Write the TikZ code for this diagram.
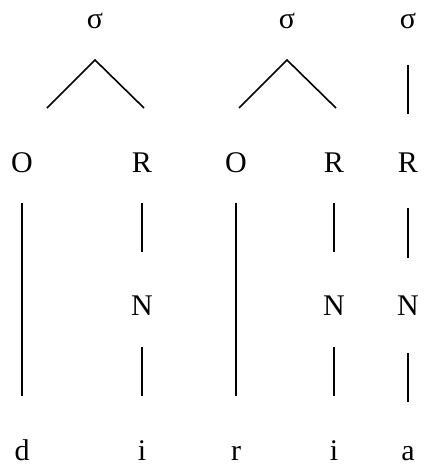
\documentclass[tikz,border=0pt]{standalone}
\usepackage{fontspec}
\setmainfont{Liberation Serif}
\usetikzlibrary{positioning}
\newcommand{\sylfont}{\fontsize{30}{36}\selectfont}

\begin{document}
\begin{tikzpicture}[x=1pt, y=-1pt, on grid,
    every node/.style={font=\sylfont, inner sep=0pt, text height=20pt, text depth=1pt},
    link/.style={line width=1.6pt}]
    \useasboundingbox (0,0) rectangle (425,466);
    % syllable nodes
    \node (s1) at (95,18.5) {σ};
    \node (s2) at (287,18.5) {σ};
    \node (s3) at (408,18.5) {σ};
    % onsets and rhymes
    \node (o1) at (22,162.5) {O};
    \node (r1) at (142,162.5) {R};
    \node (o2) at (236,162.5) {O};
    \node (r2) at (334,162.5) {R};
    \node (r3) at (408,162.5) {R};
    % nuclei
    \node[below=143pt of r1] (n1) {N};
    \node[below=143pt of r2] (n2) {N};
    \node[below=143pt of r3] (n3) {N};
    % segments
    \node[below=288pt of o1] (d) {d};
    \node[below=288pt of r1] (i1) {i};
    \node[below=288pt of o2] (r) {r};
    \node[below=288pt of r2] (i2) {i};
    \node[below=288pt of r3] (a) {a};
    % branching points
    \coordinate[below=41.5pt of s1] (top1);
    \coordinate[below left=48pt and 48pt of top1] (l1);
    \coordinate[below right=48pt and 49pt of top1] (e1);
    \coordinate[below=41.5pt of s2] (top2);
    \coordinate[below left=48pt and 48pt of top2] (l2);
    \coordinate[below right=48pt and 49pt of top2] (e2);

    \draw[link] (l1) -- (top1) -- (e1);
    \draw[link] (l2) -- (top2) -- (e2);
    \draw[link, shorten <=36pt, shorten >=38pt] (s3) -- (r3);

    \draw[link, shorten <=30pt, shorten >=44pt] (o1) -- (d);
    \draw[link, shorten <=30pt, shorten >=44pt] (o2) -- (r);
    \draw[link, shorten <=30pt, shorten >=43pt] (r1) -- (n1);
    \draw[link, shorten <=30pt, shorten >=43pt] (r2) -- (n2);
    \draw[link, shorten <=35pt, shorten >=37pt] (r3) -- (n3);
    \draw[link, shorten <=31pt, shorten >=44pt] (n1) -- (i1);
    \draw[link, shorten <=31pt, shorten >=44pt] (n2) -- (i2);
    \draw[link, shorten <=37pt, shorten >=38pt] (n3) -- (a);
\end{tikzpicture}
\end{document}
